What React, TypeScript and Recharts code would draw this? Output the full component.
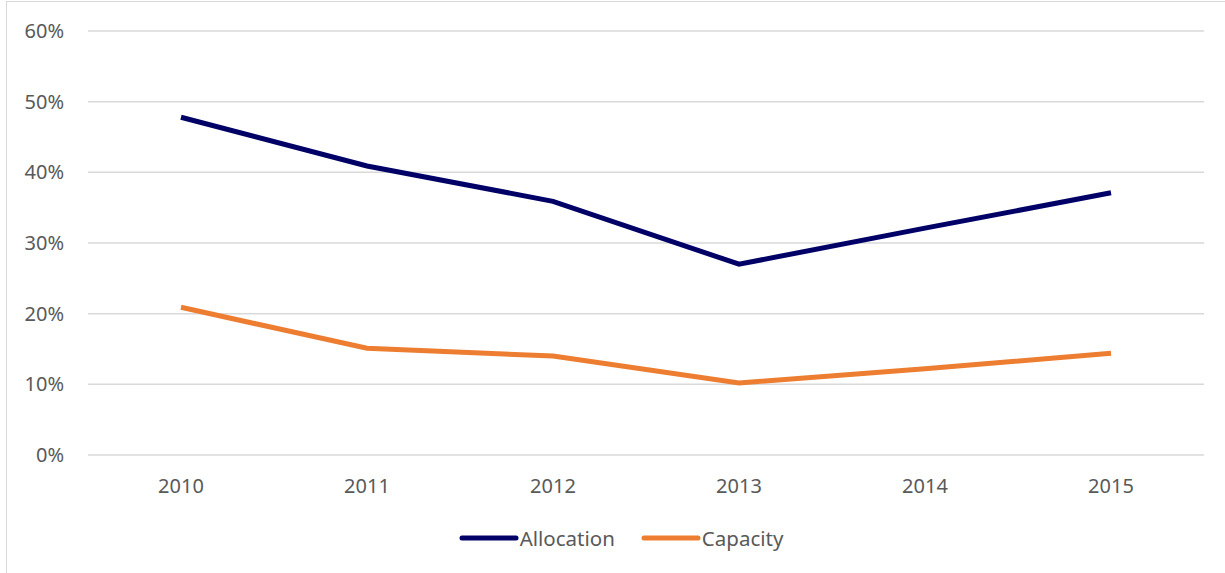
import { LineChart, Line, XAxis, YAxis, CartesianGrid, Legend } from 'recharts';

const years = ['2010', '2011', '2012', '2013', '2014', '2015'];
const allocation = [47.8, 40.9, 35.9, 27.0, 32.1, 37.1];
const capacity = [20.9, 15.1, 14.0, 10.2, 12.2, 14.4];
const yTicks = [0, 10, 20, 30, 40, 50, 60];

const data = years.map((year, i) => ({
  year,
  allocation: allocation[i],
  capacity: capacity[i],
}));

const FONT = '"Noto Sans", "Open Sans", sans-serif';

function LegendContent() {
  const items = [
    { label: 'Allocation', color: '#000066' },
    { label: 'Capacity', color: '#ED7D31' },
  ];
  return (
    <div style={{ display: 'flex', justifyContent: 'center', gap: 26, fontFamily: FONT, paddingLeft: 10 }}>
      {items.map((item) => (
        <div key={item.label} style={{ display: 'flex', alignItems: 'center' }}>
          <svg width={60} height={10}>
            <line x1={3} y1={5} x2={57} y2={5} stroke={item.color} strokeWidth={5} strokeLinecap="round" />
          </svg>
          <span style={{ fontSize: 20.5, color: '#595959', marginLeft: 1 }}>{item.label}</span>
        </div>
      ))}
    </div>
  );
}

export default function App() {
  return (
    <div style={{ position: 'absolute', left: 0, top: 0, width: 1225, height: 573, overflow: 'hidden', background: '#fff' }}>
      {/* outer chart border */}
      <div
        style={{
          position: 'absolute',
          left: 6,
          top: 1,
          width: 1240,
          height: 600,
          border: '1.5px solid #d9d9d9',
        }}
      />
      <div style={{ position: 'absolute', left: 0, top: 0 }}>
        <LineChart width={1225} height={573} data={data} margin={{ top: 31, right: 21, bottom: 9, left: 28 }}>
          <CartesianGrid vertical={false} stroke="#d9d9d9" strokeWidth={1.5} />
          <XAxis
            dataKey="year"
            axisLine={false}
            tickLine={false}
            tickSize={0}
            tickMargin={24}
            height={69}
            padding={{ left: 93, right: 93 }}
            tick={{ fill: '#595959', fontSize: 20, fontFamily: FONT }}
          />
          <YAxis
            domain={[0, 60]}
            ticks={yTicks}
            tickFormatter={(v) => `${v}%`}
            axisLine={false}
            tickLine={false}
            tickSize={0}
            tickMargin={24}
            width={60}
            tick={{ fill: '#595959', fontSize: 20, fontFamily: FONT }}
          />
          <Legend verticalAlign="bottom" height={40} content={<LegendContent />} />
          <Line
            type="linear"
            dataKey="allocation"
            name="Allocation"
            stroke="#000066"
            strokeWidth={5}
            dot={false}
            isAnimationActive={false}
          />
          <Line
            type="linear"
            dataKey="capacity"
            name="Capacity"
            stroke="#ED7D31"
            strokeWidth={5}
            dot={false}
            isAnimationActive={false}
          />
        </LineChart>
      </div>
    </div>
  );
}
